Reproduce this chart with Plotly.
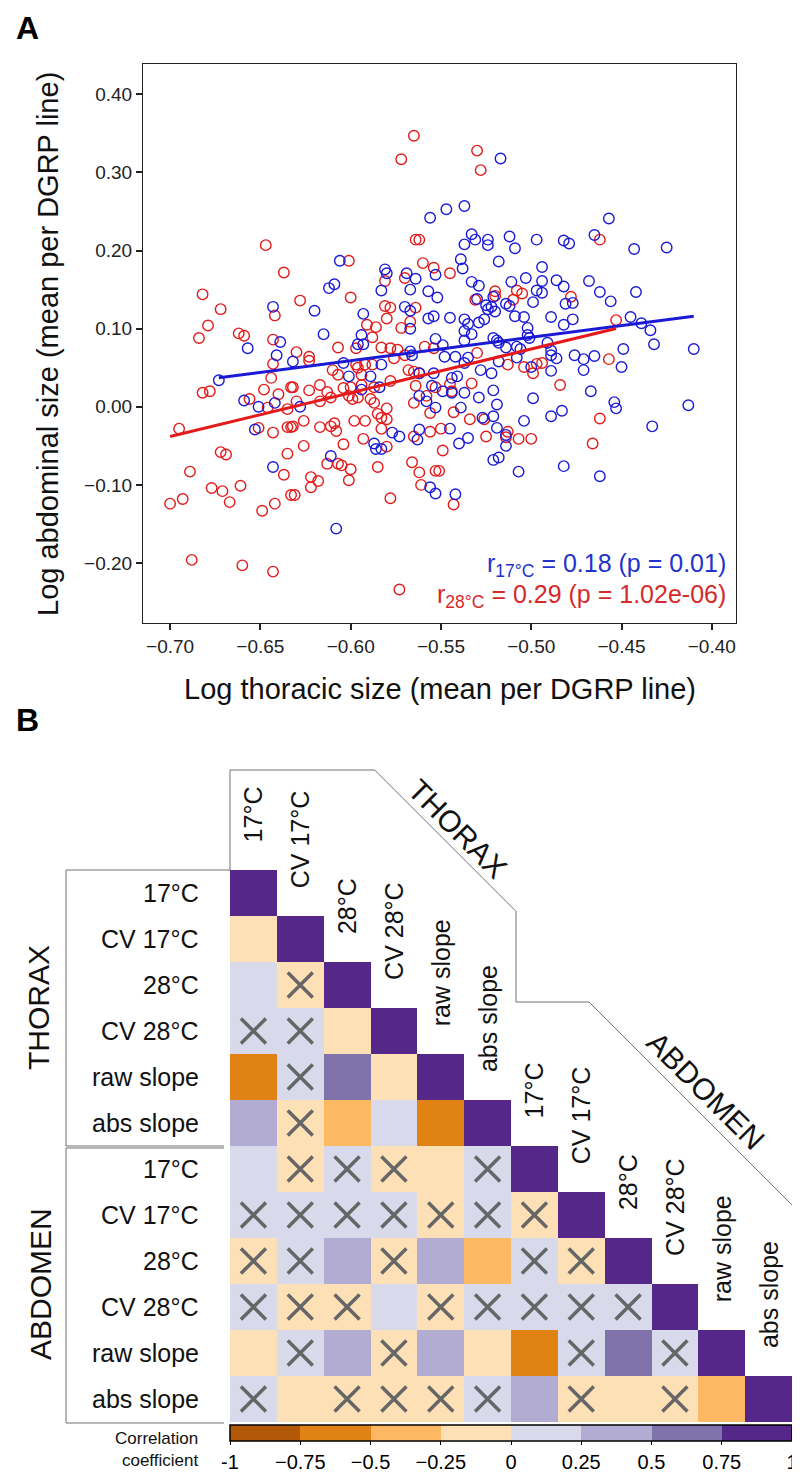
import numpy as np
import plotly.graph_objects as go

# ---------------- Panel A data (mean per DGRP line) ----------------
blue_pts = [
(-0.643,0.128),(-0.639,0.083),(-0.657,0.075),(-0.641,0.066),(-0.632,0.058),
(-0.556,0.242),(-0.606,0.187),(-0.581,0.176),(-0.580,0.171),(-0.569,0.171),(-0.564,0.164),(-0.553,0.169),
(-0.612,0.152),(-0.609,0.157),(-0.583,0.149),(-0.567,0.150),(-0.557,0.148),(-0.552,0.140),(-0.620,0.123),
(-0.570,0.128),(-0.567,0.123),(-0.593,0.119),(-0.557,0.113),(-0.554,0.116),(-0.567,0.100),(-0.615,0.093),
(-0.594,0.092),(-0.596,0.080),(-0.593,0.080),(-0.553,0.087),(-0.567,0.071),(-0.566,0.066),(-0.604,0.056),
(-0.583,0.054),
(-0.517,0.318),(-0.547,0.253),(-0.537,0.257),(-0.533,0.221),(-0.537,0.208),(-0.531,0.214),(-0.524,0.214),
(-0.524,0.207),(-0.512,0.218),(-0.509,0.203),(-0.497,0.214),(-0.482,0.213),(-0.479,0.209),(-0.539,0.189),
(-0.538,0.177),(-0.518,0.186),(-0.494,0.179),(-0.533,0.160),(-0.529,0.155),(-0.511,0.160),(-0.503,0.165),
(-0.494,0.161),(-0.486,0.162),(-0.482,0.154),(-0.521,0.141),(-0.530,0.138),(-0.497,0.149),(-0.494,0.146),
(-0.481,0.132),(-0.477,0.133),(-0.499,0.134),(-0.525,0.130),(-0.524,0.125),(-0.522,0.128),(-0.520,0.122),
(-0.514,0.132),(-0.512,0.129),(-0.509,0.116),(-0.504,0.115),(-0.489,0.115),(-0.477,0.112),(-0.482,0.105),
(-0.545,0.114),(-0.537,0.112),(-0.535,0.106),(-0.529,0.108),(-0.526,0.112),(-0.537,0.097),(-0.533,0.093),
(-0.502,0.101),(-0.502,0.092),(-0.501,0.088),(-0.521,0.088),(-0.519,0.085),(-0.518,0.082),(-0.537,0.085),
(-0.491,0.082),(-0.549,0.079),(-0.514,0.076),(-0.508,0.077),(-0.506,0.074),(-0.489,0.072),(-0.548,0.064),
(-0.542,0.064),(-0.535,0.063),(-0.518,0.058),(-0.508,0.063),(-0.500,0.051),(-0.486,0.062),(-0.476,0.066),
(-0.489,0.066),
(-0.673,0.034),(-0.659,0.008),(-0.651,0.000),(-0.642,0.005),(-0.653,-0.029),(-0.643,-0.077),
(-0.601,0.039),(-0.589,0.039),(-0.562,0.043),(-0.554,0.043),(-0.594,0.022),(-0.584,0.025),(-0.628,0.000),
(-0.562,0.014),(-0.558,0.007),(-0.555,0.027),(-0.553,-0.001),(-0.577,-0.033),(-0.573,-0.038),(-0.562,-0.029),
(-0.563,-0.042),(-0.587,-0.047),(-0.586,-0.054),(-0.583,-0.054),(-0.611,-0.063),(-0.556,-0.103),(-0.553,-0.111),
(-0.608,-0.156),
(-0.489,0.046),(-0.528,0.047),(-0.522,0.043),(-0.544,0.037),(-0.541,0.039),(-0.537,0.056),(-0.549,0.020),
(-0.544,0.018),(-0.537,0.018),(-0.529,0.012),(-0.521,0.021),(-0.519,0.003),(-0.499,0.011),(-0.539,-0.001),
(-0.527,-0.014),(-0.521,-0.012),(-0.519,-0.027),(-0.504,-0.018),(-0.489,-0.012),(-0.483,-0.005),(-0.545,-0.028),
(-0.514,-0.036),(-0.514,-0.050),(-0.535,-0.040),(-0.540,-0.047),(-0.521,-0.068),(-0.518,-0.065),(-0.507,-0.083),
(-0.482,-0.076),(-0.542,-0.112),
(-0.457,0.241),(-0.465,0.220),(-0.443,0.202),(-0.425,0.204),(-0.468,0.161),(-0.462,0.147),(-0.442,0.147),
(-0.456,0.135),(-0.445,0.115),(-0.439,0.107),(-0.434,0.098),(-0.432,0.080),(-0.449,0.074),(-0.410,0.074),
(-0.471,0.061),(-0.465,0.065),(-0.450,0.051),(-0.471,0.047),(-0.467,0.020),(-0.454,0.006),(-0.453,-0.002),
(-0.413,0.002),(-0.433,-0.025),(-0.462,-0.089),
]
red_pts = [
(-0.647,0.207),(-0.637,0.172),(-0.682,0.144),(-0.672,0.125),(-0.642,0.117),(-0.679,0.104),(-0.684,0.088),
(-0.662,0.094),(-0.659,0.091),(-0.643,0.086),(-0.643,0.055),
(-0.565,0.347),(-0.572,0.317),(-0.564,0.214),(-0.562,0.214),(-0.601,0.187),(-0.560,0.184),(-0.554,0.178),
(-0.570,0.165),(-0.581,0.161),(-0.628,0.136),(-0.600,0.140),(-0.581,0.129),(-0.578,0.127),(-0.564,0.127),
(-0.580,0.113),(-0.567,0.109),(-0.591,0.105),(-0.586,0.102),(-0.572,0.101),(-0.588,0.089),(-0.607,0.076),
(-0.597,0.075),(-0.583,0.076),(-0.578,0.075),(-0.574,0.073),(-0.559,0.077),(-0.554,0.075),(-0.630,0.070),
(-0.623,0.064),(-0.623,0.059),(-0.597,0.054),(-0.592,0.054),(-0.588,0.054),(-0.576,0.062),(-0.570,0.066),
(-0.530,0.328),(-0.528,0.303),(-0.545,0.171),(-0.520,0.148),(-0.520,0.142),(-0.531,0.137),(-0.508,0.149),
(-0.505,0.145),(-0.510,0.137),(-0.478,0.141),(-0.530,0.069),(-0.513,0.054),(-0.504,0.051),(-0.497,0.055),
(-0.494,0.056),
(-0.644,0.037),(-0.682,0.018),(-0.678,0.020),(-0.648,0.022),(-0.640,0.016),(-0.633,0.025),(-0.656,0.010),
(-0.646,-0.001),(-0.635,-0.003),(-0.695,-0.028),(-0.651,-0.027),(-0.643,-0.033),(-0.635,-0.026),(-0.633,-0.026),
(-0.672,-0.058),(-0.669,-0.061),(-0.635,-0.060),(-0.689,-0.083),(-0.637,-0.087),(-0.677,-0.104),(-0.671,-0.108),
(-0.661,-0.101),(-0.633,-0.113),(-0.700,-0.124),(-0.693,-0.118),(-0.667,-0.122),(-0.649,-0.133),(-0.642,-0.124),
(-0.688,-0.196),(-0.660,-0.203),(-0.643,-0.211),
(-0.610,0.047),(-0.607,0.041),(-0.596,0.050),(-0.594,0.041),(-0.578,0.033),(-0.568,0.047),(-0.565,0.045),
(-0.562,0.043),(-0.632,0.025),(-0.623,0.021),(-0.617,0.028),(-0.613,0.019),(-0.604,0.024),(-0.600,0.025),
(-0.594,0.028),(-0.587,0.025),(-0.601,0.014),(-0.599,0.010),(-0.596,0.012),(-0.589,0.010),(-0.587,0.005),
(-0.630,0.007),(-0.617,0.007),(-0.611,0.012),(-0.564,0.027),(-0.558,0.014),(-0.553,0.025),(-0.565,0.005),
(-0.556,-0.008),(-0.585,-0.009),(-0.580,-0.002),(-0.583,-0.014),(-0.580,-0.016),(-0.632,-0.025),(-0.626,-0.018),
(-0.617,-0.026),(-0.611,-0.025),(-0.609,-0.021),(-0.608,-0.031),(-0.598,-0.018),(-0.592,-0.018),(-0.583,-0.028),
(-0.593,-0.041),(-0.565,-0.038),(-0.556,-0.032),(-0.626,-0.050),(-0.604,-0.048),(-0.580,-0.051),(-0.613,-0.073),
(-0.607,-0.073),(-0.605,-0.075),(-0.600,-0.080),(-0.585,-0.077),(-0.566,-0.071),(-0.562,-0.084),(-0.553,-0.082),
(-0.622,-0.090),(-0.618,-0.095),(-0.622,-0.103),(-0.601,-0.094),(-0.561,-0.100),(-0.631,-0.113),(-0.578,-0.117),
(-0.573,-0.234),
(-0.499,0.043),(-0.533,0.030),(-0.545,0.029),(-0.544,0.020),(-0.484,0.028),(-0.543,-0.007),(-0.534,-0.016),
(-0.526,-0.016),(-0.550,-0.028),(-0.525,-0.038),(-0.513,-0.032),(-0.514,-0.039),(-0.507,-0.041),(-0.500,-0.041),
(-0.549,-0.056),(-0.551,-0.082),(-0.543,-0.125),
(-0.462,0.214),(-0.453,0.111),(-0.457,0.061),(-0.462,-0.015),(-0.466,-0.047),
]
blue_x = [p[0] for p in blue_pts]; blue_y = [p[1] for p in blue_pts]
red_x = [p[0] for p in red_pts]; red_y = [p[1] for p in red_pts]

x_tick_vals = [-0.70, -0.65, -0.60, -0.55, -0.50, -0.45, -0.40]
x_tick_text = ["\u22120.70", "\u22120.65", "\u22120.60", "\u22120.55", "\u22120.50", "\u22120.45", "\u22120.40"]
y_tick_vals = [0.40, 0.30, 0.20, 0.10, 0.00, -0.10, -0.20]
y_tick_text = ["0.40", "0.30", "0.20", "0.10", "0.00", "\u22120.10", "\u22120.20"]

# ---------------- Panel B data ----------------
trait_labels = ["17°C", "CV 17°C", "28°C", "CV 28°C", "raw slope", "abs slope"] * 2
corr_lower = [
 [1],
 [-0.12, 1],
 [0.10, -0.08, 1],
 [0.08, 0.12, -0.15, 1],
 [-0.62, 0.06, 0.60, -0.10, 1],
 [0.36, -0.05, -0.40, 0.09, -0.63, 1],
 [0.11, -0.07, 0.05, -0.06, -0.14, 0.04, 1],
 [0.06, 0.03, 0.07, 0.02, -0.04, 0.08, -0.09, 1],
 [-0.05, 0.04, 0.33, -0.06, 0.34, -0.42, 0.07, -0.06, 1],
 [0.05, -0.06, -0.09, 0.12, -0.07, 0.06, 0.04, 0.03, 0.05, 1],
 [-0.16, 0.05, 0.37, -0.07, 0.35, -0.18, -0.61, 0.08, 0.58, 0.06, 1],
 [0.04, -0.13, -0.06, -0.05, -0.08, 0.05, 0.32, -0.07, -0.15, -0.09, -0.38, 1],
]
not_signif = [
 [0],
 [0, 0],
 [0, 1, 0],
 [1, 1, 0, 0],
 [0, 1, 0, 0, 0],
 [0, 1, 0, 0, 0, 0],
 [0, 1, 1, 1, 0, 1, 0],
 [1, 1, 1, 1, 1, 1, 1, 0],
 [1, 1, 0, 1, 0, 0, 1, 1, 0],
 [1, 1, 1, 0, 1, 1, 1, 1, 1, 0],
 [0, 1, 0, 1, 0, 0, 0, 1, 0, 1, 0],
 [1, 0, 1, 1, 1, 1, 0, 1, 0, 1, 0, 0],
]
puor8 = ["#b35806", "#e08214", "#fdb863", "#fee0b6", "#d8daeb", "#b2abd2", "#8073ac", "#542788"]
cbar_vals = [-1, -0.75, -0.5, -0.25, 0, 0.25, 0.5, 0.75, 1]
cbar_text = ["-1", "\u22120.75", "\u22120.5", "\u22120.25", "0", "0.25", "0.5", "0.75", "1"]

# ---------------- helpers (page pixels -> paper) ----------------
W, H = 800, 1477
def PX(x): return x / W
def PY(y): return 1 - y / H

FONT = "Liberation Sans, Arial, Helvetica, sans-serif"
BLUE = "#1a1ad6"
RED = "#e41a1a"

fig = go.Figure()

fig.add_trace(go.Scatter(x=red_x, y=red_y, mode="markers", xaxis="x", yaxis="y",
    marker=dict(symbol="circle-open", size=10.5, color=RED, line=dict(width=1.4, color=RED)),
    showlegend=False, hoverinfo="skip"))
fig.add_trace(go.Scatter(x=blue_x, y=blue_y, mode="markers", xaxis="x", yaxis="y",
    marker=dict(symbol="circle-open", size=10.5, color=BLUE, line=dict(width=1.4, color=BLUE)),
    showlegend=False, hoverinfo="skip"))

for xs, ys, col in [(blue_x, blue_y, BLUE), (red_x, red_y, RED)]:
    b, a = np.polyfit(xs, ys, 1)
    lx = np.array([min(xs), max(xs)])
    fig.add_trace(go.Scatter(x=lx, y=a + b * lx, mode="lines", xaxis="x", yaxis="y",
        line=dict(color=col, width=3), showlegend=False, hoverinfo="skip"))

# Panel B heatmap geometry (page pixels)
n = len(trait_labels)
gx0, gx1 = 222, 784
gy0 = 862
ch = 46.0
gy1 = gy0 + n * ch
cw = (gx1 - gx0) / n
xr = gx1 + 2

z = [[(corr_lower[i][j] if j <= i else None) for j in range(n)] for i in range(n)]
cscale = []
for k, c in enumerate(puor8):
    cscale.append([k / 8, c]); cscale.append([(k + 1) / 8, c])
fig.add_trace(go.Heatmap(z=z, x=list(range(n)), y=list(range(n)), xaxis="x2", yaxis="y2",
    colorscale=cscale, zmin=-1, zmax=1, hoverinfo="skip",
    colorbar=dict(orientation="h", x=PX((gx0 + gx1) / 2), xanchor="center", y=PY(gy1 + 3), yanchor="top",
                  len=gx1 - gx0, lenmode="pixels", thickness=16, thicknessmode="pixels",
                  outlinewidth=1.5, outlinecolor="black", xpad=0, ypad=0,
                  ticks="outside", ticklen=4, tickcolor="black", tickwidth=1.2,
                  tickvals=cbar_vals, ticktext=cbar_text,
                  tickfont=dict(family=FONT, size=20, color="black"))))

xs_ns, ys_ns = [], []
for i in range(n):
    for j in range(i + 1):
        if not_signif[i][j]:
            xs_ns.append(j); ys_ns.append(i)
fig.add_trace(go.Scatter(x=xs_ns, y=ys_ns, mode="markers", xaxis="x2", yaxis="y2",
    marker=dict(symbol="x-thin", size=25, line=dict(width=3.5, color="#666666")),
    showlegend=False, hoverinfo="skip"))

ann = []
ann.append(dict(text="<b>A</b>", x=PX(6), y=PY(0), xanchor="left", yanchor="top",
                font=dict(size=32, family=FONT, color="black")))
ann.append(dict(text="<b>B</b>", x=PX(6), y=PY(692), xanchor="left", yanchor="top",
                font=dict(size=32, family=FONT, color="black")))
ann.append(dict(text="Log thoracic size (mean per DGRP line)", x=PX(432), y=PY(681),
                xanchor="center", yanchor="middle", font=dict(size=29, family=FONT, color="#111")))
ann.append(dict(text="Log abdominal size (mean per DGRP line)", x=PX(40), y=PY(336), textangle=-90,
                xanchor="center", yanchor="middle", font=dict(size=29, family=FONT, color="#111")))
ann.append(dict(text="r<sub>17°C</sub> = 0.18 (p = 0.01)", x=PX(720), y=PY(557), xanchor="right",
                yanchor="middle", font=dict(size=25, family=FONT, color="#2233cc")))
ann.append(dict(text="r<sub>28°C</sub> = 0.29 (p = 1.02e-06)", x=PX(720), y=PY(588), xanchor="right",
                yanchor="middle", font=dict(size=25, family=FONT, color="#d42a2a")))

for i, lab in enumerate(trait_labels):
    ann.append(dict(text=lab, x=PX(193), y=PY(gy0 + (i + 0.5) * ch), xanchor="right", yanchor="middle",
                    font=dict(size=25, family=FONT, color="#111")))
    ann.append(dict(text=lab, x=PX(gx0 + (i + 0.5) * cw), y=PY(gy0 + i * ch - 26), textangle=-90,
                    xanchor="center", yanchor="bottom", font=dict(size=25, family=FONT, color="#111")))
ann.append(dict(text="THORAX", x=PX(30), y=PY(gy0 + 3 * ch), textangle=-90, xanchor="center",
                yanchor="middle", font=dict(size=30, family=FONT, color="#111")))
ann.append(dict(text="ABDOMEN", x=PX(32), y=PY(gy0 + 9 * ch), textangle=-90, xanchor="center",
                yanchor="middle", font=dict(size=30, family=FONT, color="#111")))

# outline geometry tied to the grid
top_y = gy0 - 100
d1_x0 = 366.7
v_x = gx0 + 6 * cw + 5
d1_y1 = top_y + (v_x - d1_x0)
h2_y = gy0 + 132
d2_x0 = 581
d2_y1 = h2_y + (xr - d2_x0)
ann.append(dict(text="THORAX", x=PX((d1_x0 + v_x) / 2 + 12), y=PY((top_y + d1_y1) / 2 - 12), textangle=45,
                xanchor="center", yanchor="middle", font=dict(size=30, family=FONT, color="#111")))
ann.append(dict(text="ABDOMEN", x=PX((d2_x0 + xr) / 2 + 14), y=PY((h2_y + d2_y1) / 2 - 14), textangle=45,
                xanchor="center", yanchor="middle", font=dict(size=30, family=FONT, color="#111")))
ann.append(dict(text="Correlation<br>coefficient", x=PX(192), y=PY(gy1 + 27), xanchor="right",
                yanchor="middle", align="right", font=dict(size=17, family=FONT, color="#111")))
for a in ann:
    a.update(xref="paper", yref="paper", showarrow=False)

def path(pts):
    return "M " + " L ".join(f"{PX(x):.5f},{PY(y):.5f}" for x, y in pts)

LC = "#707070"
mid_y = gy0 + 6 * ch
shapes = [
    dict(type="path", path=path([(gx0, gy0), (gx0, top_y), (d1_x0, top_y), (v_x, d1_y1), (v_x, h2_y),
                                 (d2_x0, h2_y), (xr, d2_y1), (xr, gy0 + 11 * ch)])),
    dict(type="path", path=path([(gx0, gy0), (58, gy0), (58, mid_y), (216, mid_y)])),
    dict(type="path", path=path([(216, mid_y + 2), (58, mid_y + 2), (58, gy1 + 1), (216, gy1 + 1)])),
]
for s in shapes:
    s.update(xref="paper", yref="paper", line=dict(color=LC, width=1))

fig.update_layout(
    width=W, height=H, margin=dict(l=0, r=0, t=0, b=0),
    paper_bgcolor="white", plot_bgcolor="white",
    annotations=ann, shapes=shapes,
    xaxis=dict(domain=[PX(135), PX(728)], range=[-0.715, -0.3866], tickvals=x_tick_vals, ticktext=x_tick_text,
               ticks="outside", ticklen=6, tickwidth=1.5, tickcolor="#222", showline=True, linecolor="#222",
               linewidth=1, mirror=True, showgrid=False, zeroline=False,
               tickfont=dict(size=19, family=FONT, color="#222"), anchor="y"),
    yaxis=dict(domain=[PY(615), PY(56)], range=[-0.2768, 0.4389], tickvals=y_tick_vals, ticktext=y_tick_text,
               ticks="outside", ticklen=6, tickwidth=1.5, tickcolor="#222", showline=True, linecolor="#222",
               linewidth=1, mirror=True, showgrid=False, zeroline=False,
               tickfont=dict(size=19, family=FONT, color="#222"), anchor="x"),
    xaxis2=dict(domain=[PX(gx0), PX(gx1)], range=[-0.5, n - 0.5], visible=False, anchor="y2"),
    yaxis2=dict(domain=[PY(gy1), PY(gy0)], range=[n - 0.5, -0.5], visible=False, anchor="x2"),
)

fig.write_html("out.html")
